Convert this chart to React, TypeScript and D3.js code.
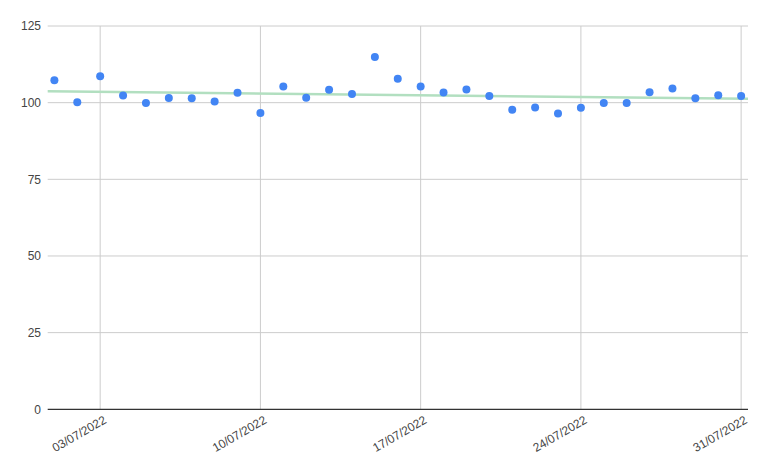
import React from "react";
import * as d3 from "d3";

const dates: string[] = Array.from({ length: 31 }, (_, i) => `2022-07-${String(i + 1).padStart(2, "0")}`);
const values: number[] = [
  107.3, 100.1, 108.6, 102.3, 99.9, 101.5, 101.4, 100.4, 103.2, 96.6,
  105.3, 101.6, 104.2, 102.8, 114.9, 107.8, 105.3, 103.3, 104.3, 102.2,
  97.7, 98.4, 96.5, 98.3, 99.9, 99.9, 103.4, 104.6, 101.4, 102.4, 102.2,
];
const yTicks: number[] = [0, 25, 50, 75, 100, 125];
const xTickDates: string[] = ["2022-07-03", "2022-07-10", "2022-07-17", "2022-07-24", "2022-07-31"];

const W = 769, H = 472;
const left = 47.7, right = 748, top = 26, bottom = 409.3;
const DAY = 86400000;
const parse = (s: string) => new Date(s + "T00:00:00Z");
const fmt = d3.utcFormat("%d/%m/%Y");

export default function App() {
  const t0 = parse(dates[0]).getTime();
  const t1 = parse(dates[dates.length - 1]).getTime();
  const x = d3.scaleUtc()
    .domain([new Date(t0 - 0.292 * DAY), new Date(t1 + 0.3 * DAY)])
    .range([left, right]);
  const y = d3.scaleLinear().domain([0, 125]).range([bottom, top]);

  const pts = dates.map((d, i) => ({ t: parse(d), v: values[i] }));
  // linear regression trendline
  const xs = pts.map(p => (p.t.getTime() - t0) / DAY);
  const n = xs.length;
  const mx = d3.mean(xs)!;
  const my = d3.mean(values)!;
  let sxy = 0, sxx = 0;
  xs.forEach((xv, i) => { sxy += (xv - mx) * (values[i] - my); sxx += (xv - mx) ** 2; });
  const slope = sxy / sxx;
  const inter = my - slope * mx;
  const [d0, d1] = x.domain();
  const trend = [d0, d1].map(d => {
    const xv = (d.getTime() - t0) / DAY;
    return { t: d, v: inter + slope * xv };
  });
  const line = d3.line<{ t: Date; v: number }>().x(p => x(p.t)).y(p => y(p.v));

  return (
    <svg width={W} height={H} style={{ position: "absolute", left: 0, top: 0, background: "#fff" }}
      fontFamily="Arial, 'Liberation Sans', sans-serif">
      <rect width={W} height={H} fill="#fff" />
      {yTicks.filter(v => v !== 0).map(v => (
        <line key={v} x1={left} x2={right} y1={y(v)} y2={y(v)} stroke="#cccccc" strokeWidth={1} />
      ))}
      {xTickDates.map(s => (
        <line key={s} x1={x(parse(s))} x2={x(parse(s))} y1={top} y2={bottom} stroke="#cccccc" strokeWidth={1} />
      ))}
      <path d={line(trend)!} fill="none" stroke="#b2dfc0" strokeWidth={2.5} />
      {pts.map((p, i) => (
        <circle key={i} cx={x(p.t)} cy={y(p.v)} r={4} fill="#4285f4" />
      ))}
      <line x1={left} x2={right} y1={bottom} y2={bottom} stroke="#333333" strokeWidth={1.3} />
      {yTicks.map(v => (
        <text key={v} x={41} y={y(v)} dy="0.35em" textAnchor="end" fontSize={12} fill="#444">{v}</text>
      ))}
      {xTickDates.map(s => (
        <text key={s} transform={`translate(${x(parse(s)) + 7},${bottom + 13}) rotate(-30)`}
          textAnchor="end" fontSize={12} fill="#444">{fmt(parse(s))}</text>
      ))}
    </svg>
  );
}
